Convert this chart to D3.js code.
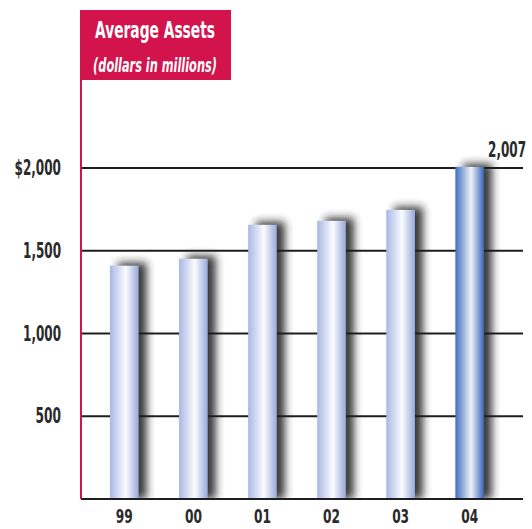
<!DOCTYPE html>
<html>
<head>
<meta charset="utf-8">
<script src="https://cdn.jsdelivr.net/npm/d3@7"></script>
<style>
  body { margin: 0; background: #fff; }
  text { font-family: "DejaVu Sans", "Liberation Sans", sans-serif; }
</style>
</head>
<body>
<div id="chart"></div>
<script>
// data
const years = ["99", "00", "01", "02", "03", "04"]
const assets = [1410, 1452, 1657, 1681, 1747, 2007]
const yTicks = [500, 1000, 1500, 2000]
const yTickLabels = ["500", "1,000", "1,500", "$2,000"]
const lastLabel = "2,007"

const W = 532, H = 529
const colors = {
    red: "#d3134b",
    ink: "#2a2a2a",
    grid: "#1e1e1e"
}

const svg = d3.select("#chart").append("svg")
    .attr("width", W).attr("height", H)

const defs = svg.append("defs")

function barGradient(id, edgeL, mid, edgeR) {
    const g = defs.append("linearGradient").attr("id", id)
        .attr("x1", "0%").attr("x2", "100%").attr("y1", "0%").attr("y2", "0%")
    g.append("stop").attr("offset", "0%").attr("stop-color", edgeL)
    g.append("stop").attr("offset", "55%").attr("stop-color", mid)
    g.append("stop").attr("offset", "100%").attr("stop-color", edgeR)
}
barGradient("barPale", "#a9b8e4", "#fbfcff", "#98a9d9")
barGradient("barDark", "#4270bf", "#eef2fb", "#3762b3")

defs.append("filter").attr("id", "shadow")
    .attr("x", "-50%").attr("y", "-50%").attr("width", "200%").attr("height", "200%")
    .append("feGaussianBlur").attr("stdDeviation", 4.5)

const x = d3.scaleBand()
    .domain(years)
    .range([82, 512])
    .paddingInner(0.585)
    .paddingOuter(0.405)

const y = d3.scaleLinear()
    .domain([0, 2000])
    .range([499, 168])

// shadows behind everything
svg.append("g").selectAll("rect")
    .data(assets)
    .join("rect")
    .attr("x", (d, i) => x(years[i]) + 8)
    .attr("y", d => y(d) - 3)
    .attr("width", x.bandwidth())
    .attr("height", d => y(0) - y(d) + 3)
    .attr("fill", "#222")
    .attr("opacity", 0.9)
    .attr("filter", "url(#shadow)")

// white strip below baseline to clip the blurred shadow
svg.append("rect").attr("x", 0).attr("y", 500).attr("width", W).attr("height", 40).attr("fill", "#fff")

// gridlines
svg.append("g").selectAll("line")
    .data(yTicks)
    .join("line")
    .attr("x1", 82).attr("x2", 523)
    .attr("y1", d => y(d)).attr("y2", d => y(d))
    .attr("stroke", colors.grid)
    .attr("stroke-width", 2)

// bars
svg.append("g").selectAll("rect")
    .data(assets)
    .join("rect")
    .attr("x", (d, i) => x(years[i]))
    .attr("y", d => y(d))
    .attr("width", x.bandwidth())
    .attr("height", d => y(0) - y(d))
    .attr("fill", (d, i) => i === assets.length - 1 ? "url(#barDark)" : "url(#barPale)")

// baseline
svg.append("line")
    .attr("x1", 81).attr("x2", 523)
    .attr("y1", y(0)).attr("y2", y(0))
    .attr("stroke", colors.grid).attr("stroke-width", 2)

// red title box + axis line
svg.append("rect")
    .attr("x", 80).attr("y", 10).attr("width", 151).attr("height", 70)
    .attr("fill", colors.red)
svg.append("line")
    .attr("x1", 81).attr("x2", 81).attr("y1", 78).attr("y2", y(0))
    .attr("stroke", colors.red).attr("stroke-width", 2)

// squeeze a text horizontally (about its anchor) to a target width
function squeeze(el, target) {
    const t = d3.select(el)
    const w = el.getComputedTextLength()
    const k = target / w
    const ax = +t.attr("x") || 0
    const ay = +t.attr("y") || 0
    t.attr("transform", `translate(${ax},${ay}) scale(${k},1)`)
        .attr("x", 0).attr("y", 0)
}

const title = svg.append("text")
    .attr("x", 155).attr("y", 38)
    .attr("text-anchor", "middle")
    .attr("fill", "#fff")
    .attr("font-size", 23)
    .attr("font-weight", "bold")
    .text("Average Assets")
squeeze(title.node(), 120)
const sub = svg.append("text")
    .attr("x", 155).attr("y", 72)
    .attr("text-anchor", "middle")
    .attr("fill", "#fff")
    .attr("font-size", 19)
    .attr("font-style", "italic")
    .attr("font-weight", "bold")
    .text("(dollars in millions)")
squeeze(sub.node(), 124)

// narrow face of the original: approx px per glyph
const glyphW = { ",": 4, "$": 8.5 }
function condense(sel) {
    sel.each(function () {
        const s = d3.select(this).text()
        squeeze(this, d3.sum(Array.from(s), c => glyphW[c] || 8.5))
    })
}

const yAxis = svg.append("g")
    .attr("transform", "translate(81,0)")
    .call(d3.axisLeft(y).tickValues(yTicks).tickSize(0).tickPadding(20)
        .tickFormat((d, i) => yTickLabels[i]))
yAxis.select(".domain").remove()
yAxis.attr("font-family", null).attr("font-size", null)
yAxis.selectAll("text")
    .attr("font-size", 21)
    .attr("font-weight", "bold")
    .attr("fill", colors.ink)
    .call(condense)

const xAxis = svg.append("g")
    .attr("transform", `translate(0,${y(0)})`)
    .call(d3.axisBottom(x).tickSize(0).tickPadding(10))
xAxis.select(".domain").remove()
xAxis.attr("font-family", null).attr("font-size", null)
xAxis.selectAll("text")
    .attr("font-size", 20)
    .attr("font-weight", "bold")
    .attr("fill", colors.ink)
    .call(condense)

// value label on the last bar
const lastIdx = assets.length - 1
svg.append("text")
    .attr("x", x(years[lastIdx]) + x.bandwidth() + 4)
    .attr("y", 157)
    .attr("fill", colors.ink)
    .attr("font-size", 21)
    .attr("font-weight", "bold")
    .text(lastLabel)
    .call(condense)
</script>
</body>
</html>
